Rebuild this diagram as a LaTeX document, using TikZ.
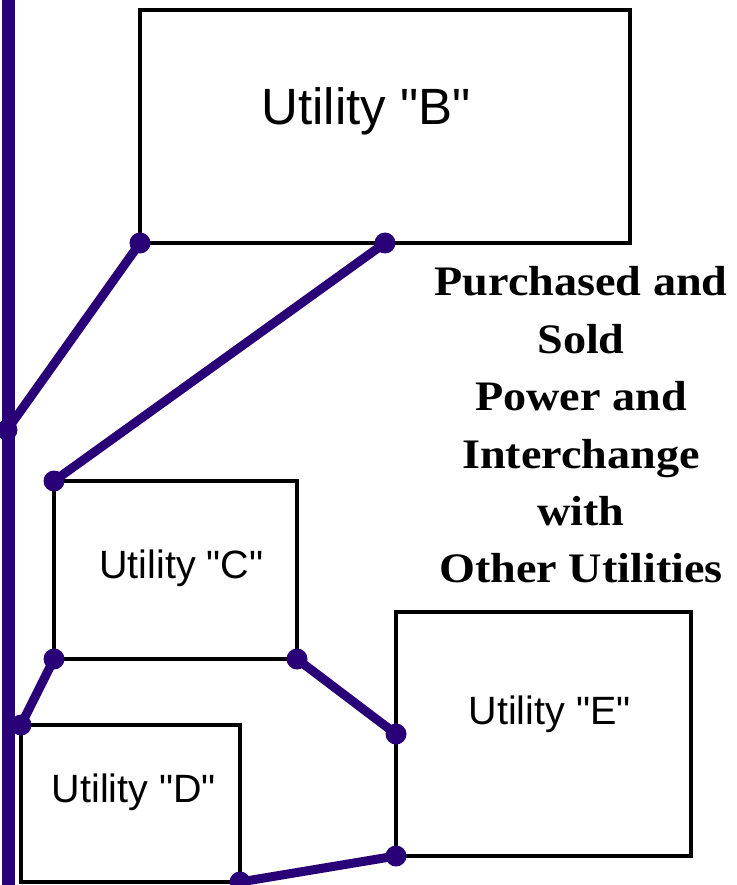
\documentclass[tikz,border=0pt]{standalone}
\usepackage{fontspec}
\newfontfamily\arialf{Liberation Sans}
\newfontfamily\headf{Liberation Serif}[FakeStretch=1.10]
\definecolor{purp}{RGB}{42,0,120}
\begin{document}
\begin{tikzpicture}[x=1pt,y=-1pt,
  ubox/.style={draw=black,line width=4.8pt,inner sep=0pt,outer sep=0pt,fill=none},
  ulabel/.style={anchor=base,inner sep=0pt,font=\arialf\fontsize{39.5}{47}\selectfont},
  link/.style={draw=purp,line width=9pt},
  dot/.style={circle,fill=purp,inner sep=0pt,minimum size=21pt},
  heading/.style={align=center,inner sep=0pt,font=\headf\bfseries\fontsize{42}{57.4}\selectfont}]
\useasboundingbox (0,0) rectangle (736,885);
% boxes
\node[ubox,minimum width=490pt,minimum height=233pt] (B) at (385,126.5) {};
\node[ubox,minimum width=243pt,minimum height=178pt] (C) at (175.5,570) {};
\node[ubox,minimum width=219pt,minimum height=157pt] (D) at (130.5,803.5) {};
\node[ubox,minimum width=295pt,minimum height=244pt] (E) at (543.5,734) {};
% labels
\node[ulabel,font=\arialf\fontsize{51}{60}\selectfont] (tB) at (366,125) {Utility "B"};
\node[ulabel] (tC) at (181.5,578) {Utility "C"};
\node[ulabel] (tD) at (134,802) {Utility "D"};
\node[ulabel] (tE) at (549.5,724) {Utility "E"};
\node[heading] (tH) at (581,425) {Purchased and\\Sold\\Power and\\Interchange\\with\\Other Utilities};
% bus
\coordinate (bustop) at (8,-5);
\coordinate (busbot) at (8,890);
\coordinate (busB) at (7,430);
\draw[link,line width=13pt] (bustop) -- (busbot);
% connectors
\draw[link] (B.south west) -- (busB);
\draw[link] (B.south) -- (C.north west);
\draw[link] (C.south west) -- (D.north west);
\draw[link] (C.south east) -- (E.west);
\draw[link] (E.south west) -- (D.south east);
% dots
\foreach \p in {B.south west,busB,B.south,C.north west,C.south west,D.north west,C.south east,E.west,E.south west,D.south east}
  \node[dot] at (\p) {};
\end{tikzpicture}
\end{document}
